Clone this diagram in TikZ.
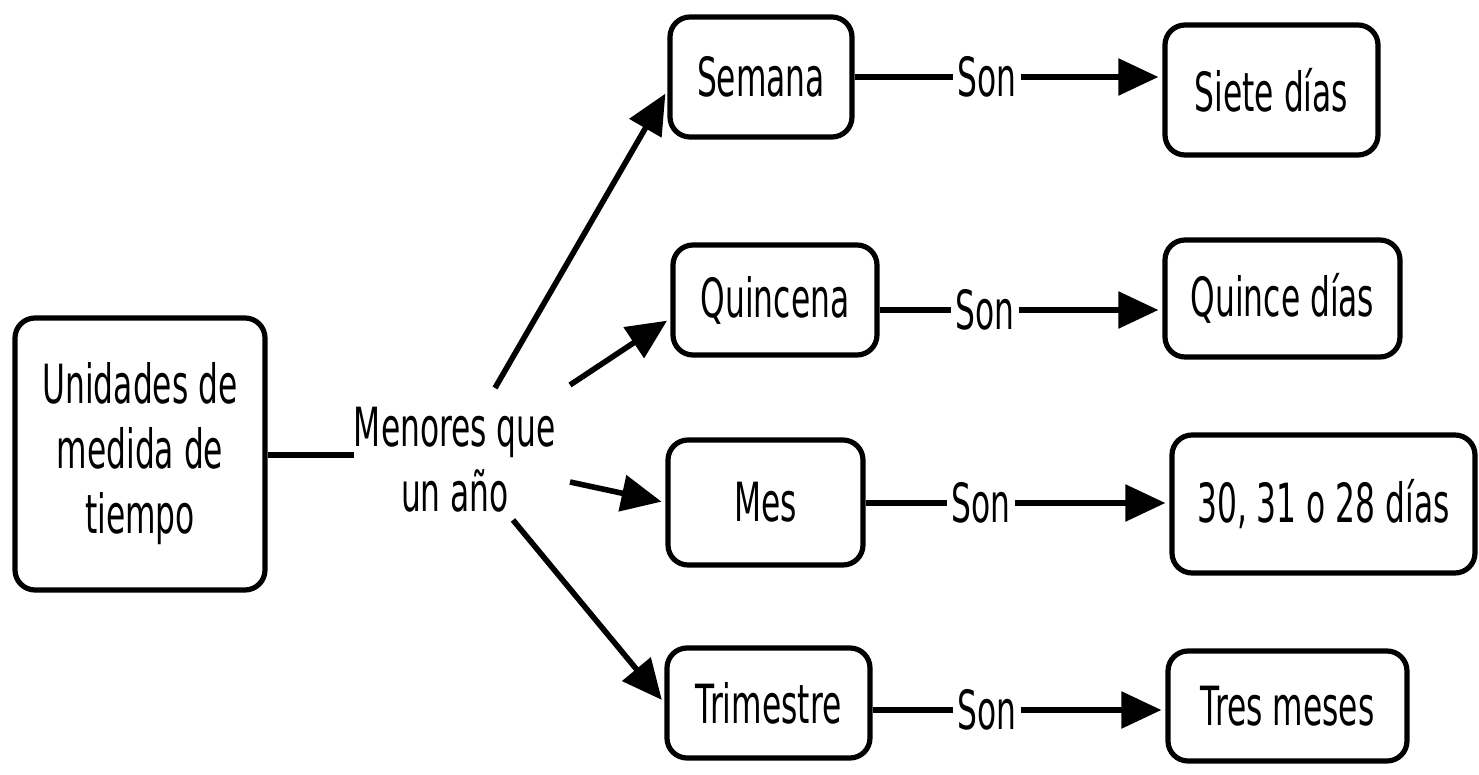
\documentclass[tikz,border=0pt]{standalone}
\usepackage{fontspec}
\setmainfont{DejaVu Sans}[FakeStretch=0.58]
\usetikzlibrary{arrows.meta}
\begin{document}
\begin{tikzpicture}[x=0.5pt,y=-0.5pt,
  txt/.style={font=\fontsize{27}{32.5}\selectfont},
  cbox/.style={txt, draw=black, line width=2.6pt, rounded corners=10pt, inner sep=0pt, align=center, fill=white},
  lbl/.style={txt, inner ysep=0pt, inner xsep=2pt, align=center},
  link/.style={line width=2.8pt},
  arr/.style={line width=2.8pt, -{Triangle[length=20pt,width=18pt]}, shorten >=2pt}]
\useasboundingbox (0,0) rectangle (1479,775);
% left box
\node[cbox, minimum width=125pt, minimum height=136pt] (uni) at (140,454) {Unidades de\\medida de\\tiempo};
\node[lbl, inner xsep=0pt] (men) at (455,460) {Menores que\\un año};
\draw[link] (uni.east |- 0,455) -- (men.west |- 0,455);
% middle boxes
\node[cbox, minimum width=91pt, minimum height=60pt] (sem) at (761,77) {Semana};
\node[cbox, minimum width=102pt, minimum height=55pt] (qui) at (775,300) {Quincena};
\node[cbox, minimum width=97.5pt, minimum height=62.5pt] (mes) at (765.5,502.5) {Mes};
\node[cbox, minimum width=101.5pt, minimum height=55pt] (tri) at (768.5,703) {Trimestre};
% right boxes
\node[cbox, minimum width=106.5pt, minimum height=65pt] (sie) at (1271.5,90) {Siete días};
\node[cbox, minimum width=117.5pt, minimum height=58.5pt] (qdi) at (1282.5,298.5) {Quince días};
\node[cbox, minimum width=151.5pt, minimum height=69pt] (tre) at (1323.5,504) {30, 31 o 28 días};
\node[cbox, minimum width=119.5pt, minimum height=55pt] (tme) at (1287.5,706) {Tres meses};
% Son labels
\node[lbl] (s1) at (987,77) {Son};
\node[lbl] (s2) at (985,310) {Son};
\node[lbl] (s3) at (981,503) {Son};
\node[lbl] (s4) at (987,710) {Son};
% start points of the arrows from the label
\coordinate (a1) at (495,388);
\coordinate (a2) at (570,385);
\coordinate (a3) at (570,482);
\coordinate (a4) at (513,520);
\draw[arr] (a1) -- (sem.188);
\draw[arr] (a2) -- (qui.190);
\draw[arr] (a3) -- (mes.west);
\draw[arr] (a4) -- (tri.west);
% Son connectors
\draw[link] (s1.west -| sem.east) -- (s1.west);
\draw[arr] (s1.east) -- (s1.east -| sie.west);
\draw[link] (s2.west -| qui.east) -- (s2.west);
\draw[arr] (s2.east) -- (s2.east -| qdi.west);
\draw[link] (s3.west -| mes.east) -- (s3.west);
\draw[arr] (s3.east) -- (s3.east -| tre.west);
\draw[link] (s4.west -| tri.east) -- (s4.west);
\draw[arr] (s4.east) -- (s4.east -| tme.west);
\end{tikzpicture}
\end{document}
